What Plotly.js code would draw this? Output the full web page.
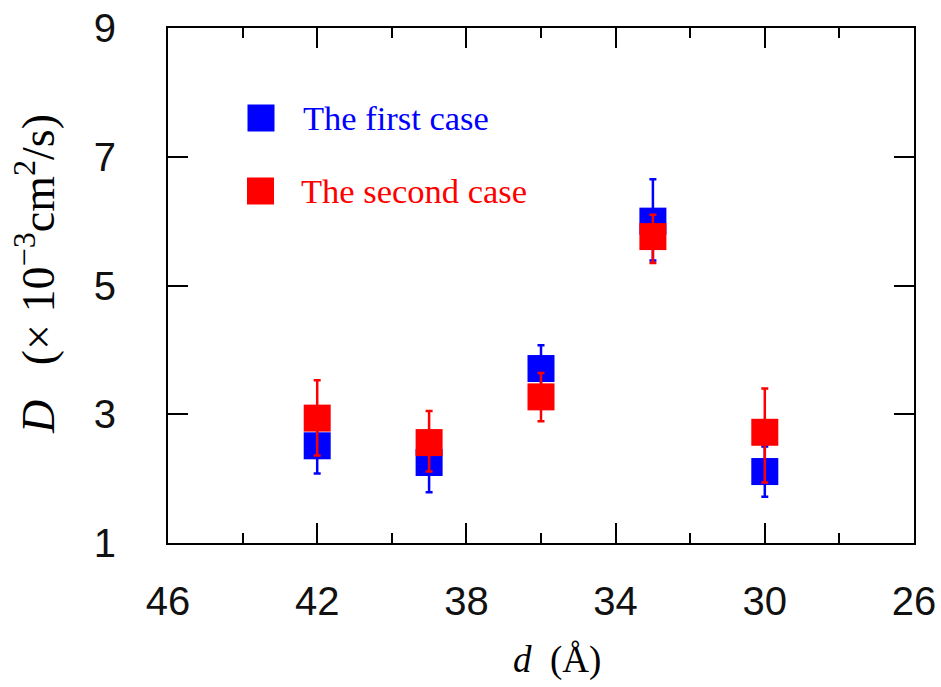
<!DOCTYPE html>
<html>
<head>
<meta charset="utf-8">
<script src="https://cdn.plot.ly/plotly-3.0.1.min.js"></script>
<style>html,body{margin:0;padding:0;background:#fff;}#chart{width:941px;height:687px;}</style>
</head>
<body>
<div id="chart"></div>
<script>
// Data
const distances = [42, 39, 36, 33, 30];              // d (Å)
const firstCase = [2.51, 2.25, 3.71, 6.00, 2.11];    // D (×10^-3 cm^2/s)
const firstErrPlus = [0.43, 0.46, 0.36, 0.65, 0.39];
const firstErrMinus = [0.43, 0.46, 0.36, 0.61, 0.39];
const secondCase = [2.94, 2.56, 3.27, 5.76, 2.72];
const secondErrPlus = [0.59, 0.49, 0.37, 0.34, 0.68];
const secondErrMinus = [0.58, 0.45, 0.38, 0.41, 0.78];
const seriesNames = ["The first case", "The second case"];
const xTicks = [46, 42, 38, 34, 30, 26];
const yTicks = [1, 3, 5, 7, 9];

const BLUE = "#0000ff", RED = "#ff0000";
const serif = "Liberation Serif, DejaVu Serif, serif";
const sans = "Liberation Sans, Arial, sans-serif";

function trace(y, ep, em, color, name) {
  return {
    type: "scatter", mode: "markers", x: distances, y: y, name: name,
    showlegend: false,
    marker: {symbol: "square", size: 27, color: color, line: {width: 0}},
    error_y: {type: "data", symmetric: false, array: ep, arrayminus: em,
              color: color, thickness: 2.5, width: 3.5}
  };
}

const data = [
  trace(firstCase, firstErrPlus, firstErrMinus, BLUE, seriesNames[0]),
  trace(secondCase, secondErrPlus, secondErrMinus, RED, seriesNames[1])
];

// Legend drawn in paper coordinates (plot area 168..914 x 28..543)
const L = 168, R = 914, T = 28, B = 543;
const px = v => (v - L) / (R - L);
const py = v => (B - v) / (B - T);

const legendRows = [
  {name: seriesNames[0], color: BLUE, cy: 118, sx: 261, tx: 301},
  {name: seriesNames[1], color: RED, cy: 191, sx: 260.5, tx: 299}
];

const shapes = legendRows.map(r => ({
  type: "rect", xref: "paper", yref: "paper",
  x0: px(r.sx - 13.5), x1: px(r.sx + 13.5), y0: py(r.cy + 13.5), y1: py(r.cy - 13.5),
  fillcolor: r.color, line: {width: 0}
}));

const annotations = legendRows.map(r => ({
  xref: "paper", yref: "paper", x: px(r.tx), y: py(r.cy), xanchor: "left", yanchor: "middle",
  text: r.name, showarrow: false, font: {family: serif, size: 34.5, color: r.color}
}));

annotations.push({
  xref: "paper", yref: "paper", x: px(557), y: py(660), xanchor: "center", yanchor: "middle",
  text: "<i>d</i>\u00a0\u00a0(Å)", showarrow: false, font: {family: serif, size: 37, color: "#000"}
});
annotations.push({
  xref: "paper", yref: "paper", x: px(35), y: py(274), xanchor: "center", yanchor: "middle",
  textangle: -90,
  text: "<i>D</i>\u00a0\u00a0\u00a0(×\u00a010<sup>−3</sup>cm<sup>2</sup>/s)", showarrow: false,
  font: {family: serif, size: 46, color: "#000"}
});

const layout = {
  width: 941, height: 687,
  margin: {l: L, r: 941 - R, t: T, b: 687 - B, pad: 0},
  paper_bgcolor: "#fff", plot_bgcolor: "#fff",
  showlegend: false,
  xaxis: {
    range: [46, 26], tickvals: xTicks, ticktext: xTicks.map(String),
    showgrid: false, zeroline: false,
    showline: true, linecolor: "#000", linewidth: 2, mirror: "ticks",
    ticks: "inside", ticklen: 20, tickwidth: 2, tickcolor: "#000",
    minor: {dtick: 2, tick0: 0, ticks: "inside", ticklen: 10, tickwidth: 2, tickcolor: "#000", showgrid: false},
    tickfont: {family: sans, size: 40, color: "#111"},
    ticklabelstandoff: 22
  },
  yaxis: {
    range: [1, 9], tickvals: yTicks, ticktext: yTicks.map(String),
    showgrid: false, zeroline: false,
    showline: true, linecolor: "#000", linewidth: 2, mirror: "ticks",
    ticks: "inside", ticklen: 20, tickwidth: 2, tickcolor: "#000",
    tickfont: {family: sans, size: 40, color: "#111"},
    ticklabelstandoff: 42
  },
  shapes: shapes,
  annotations: annotations
};

Plotly.newPlot("chart", data, layout, {displayModeBar: false, staticPlot: true});
</script>
</body>
</html>
